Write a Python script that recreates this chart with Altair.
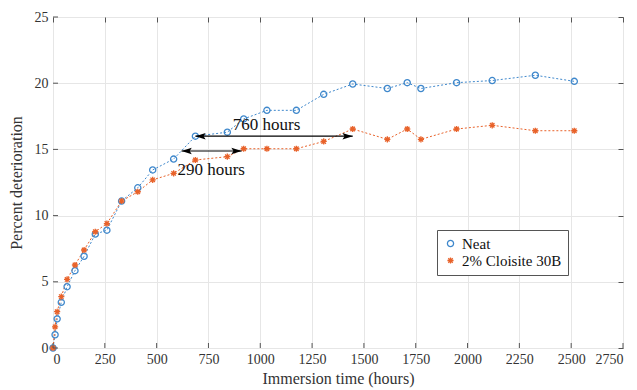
import altair as alt
import pandas as pd

hours = [0, 10, 20, 40, 68, 106, 150, 204, 260, 331, 409, 481, 582, 687, 841, 920,
         1032, 1174, 1306, 1446, 1613, 1709, 1775, 1947, 2119, 2327, 2515]
neat = [0, 1.0, 2.2, 3.45, 4.63, 5.84, 6.93, 8.6, 8.9, 11.1, 12.1, 13.45, 14.27, 16.0,
        16.3, 17.3, 17.95, 17.95, 19.16, 19.94, 19.6, 20.04, 19.6, 20.04, 20.2, 20.6, 20.14]
cloisite = [0, 1.6, 2.74, 3.88, 5.18, 6.27, 7.4, 8.78, 9.4, 11.1, 11.8, 12.7, 13.19, 14.2,
            14.45, 15.05, 15.05, 15.05, 15.6, 16.54, 15.76, 16.54, 15.76, 16.54, 16.82, 16.41, 16.41]
series_names = ["Neat", "2% Cloisite 30B"]
series_colors = ["#3f88cc", "#e8622a"]

arrow_start = [687, 620]
arrow_end = [1446, 910]
arrow_y = [16.0, 14.88]
label_text = ["760 hours", "290 hours"]
label_x = [1030, 763]
label_y = [16.85, 13.45]

x_ticks = list(range(0, 2751, 250))
y_ticks = [0, 5, 10, 15, 20, 25]

W, H = 570, 331
FONT = "Liberation Serif"
TICK = "#555"
ASTERISK = "M-1,0L1,0M0,-1L0,1M-0.72,-0.72L0.72,0.72M-0.72,0.72L0.72,-0.72"
HEAD_L = "M0,0L1,-0.32L0.8,0L1,0.32Z"
HEAD_R = "M0,0L-1,-0.32L-0.8,0L-1,0.32Z"

rows = []
for name, ys in zip(series_names, [neat, cloisite]):
    for h, v in zip(hours, ys):
        rows.append({"hours": h, "value": v, "series": name})
df = pd.DataFrame(rows)

arrows = pd.DataFrame({"x": arrow_start, "x2": arrow_end, "y": arrow_y})
labels = pd.DataFrame({"x": label_x, "y": label_y, "text": label_text})
xt = pd.DataFrame({"v": x_ticks})
yt = pd.DataFrame({"v": y_ticks})

xs = alt.Scale(domain=[0, 2750], nice=False)
ys_ = alt.Scale(domain=[0, 25], nice=False)


def inner_axis(orient, values):
    return alt.Axis(orient=orient, labels=False, grid=False, domain=False, ticks=True,
                    tickSize=5, tickColor=TICK, tickWidth=1, offset=-5, values=values,
                    title=None)


lines = alt.Chart(df).mark_line(strokeWidth=1, strokeDash=[2, 2]).encode(
    x=alt.X("hours:Q", scale=xs, title="Immersion time (hours)",
            axis=alt.Axis(orient="bottom", values=x_ticks, format="d", grid=True,
                          gridColor="#e6e6e6", ticks=False, domain=False, labelFont=FONT,
                          labelFontSize=14, labelColor="#333", labelPadding=4, titleFont=FONT,
                          titleFontSize=16, titleFontWeight="normal", titleColor="#333",
                          titlePadding=4)),
    y=alt.Y("value:Q", scale=ys_, title="Percent deterioration",
            axis=alt.Axis(orient="left", values=y_ticks, format="d", grid=True,
                          gridColor="#e6e6e6", ticks=False, domain=False, labelFont=FONT,
                          labelFontSize=14, labelColor="#333", labelPadding=5, titleFont=FONT,
                          titleFontSize=16, titleFontWeight="normal", titleColor="#333",
                          titlePadding=10)),
    stroke=alt.Stroke("series:N", scale=alt.Scale(domain=series_names, range=series_colors),
                      legend=None),
    detail="series:N",
)

points = alt.Chart(df).mark_point(filled=False, strokeWidth=1.3, size=38, opacity=1).encode(
    x=alt.X("hours:Q", scale=xs, axis=inner_axis("top", x_ticks)),
    y=alt.Y("value:Q", scale=ys_, axis=inner_axis("right", y_ticks)),
    color=alt.Color("series:N", scale=alt.Scale(domain=series_names, range=series_colors),
                    legend=alt.Legend(title=None, orient="none", legendX=384, legendY=213,
                                      strokeColor="#555", fillColor="white", padding=6,
                                      labelFont=FONT, labelFontSize=15, labelColor="#111",
                                      symbolStrokeWidth=1.3, symbolSize=38, rowPadding=1)),
    shape=alt.Shape("series:N", scale=alt.Scale(domain=series_names, range=["circle", ASTERISK]),
                    legend=None),
)

# inward ticks on bottom and left edges, placed by the shared scales
xtick_marks = alt.Chart(xt).mark_rule(color=TICK, strokeWidth=1).encode(
    x=alt.X("v:Q", scale=xs, axis=None), y=alt.value(H), y2=alt.value(H - 5))
ytick_marks = alt.Chart(yt).mark_rule(color=TICK, strokeWidth=1).encode(
    y=alt.Y("v:Q", scale=ys_, axis=None), x=alt.value(0), x2=alt.value(5))

rule = alt.Chart(arrows).mark_rule(color="black", strokeWidth=1.2).encode(
    x=alt.X("x:Q", scale=xs, axis=None),
    x2="x2:Q",
    y=alt.Y("y:Q", scale=ys_, axis=None),
)

head_l = alt.Chart(arrows).mark_point(filled=True, color="black", size=420, opacity=1,
                                      shape=HEAD_L).encode(
    x=alt.X("x:Q", scale=xs, axis=None), y=alt.Y("y:Q", scale=ys_, axis=None))
head_r = alt.Chart(arrows).mark_point(filled=True, color="black", size=420, opacity=1,
                                      shape=HEAD_R).encode(
    x=alt.X("x2:Q", scale=xs, axis=None), y=alt.Y("y:Q", scale=ys_, axis=None))

text = alt.Chart(labels).mark_text(font=FONT, fontSize=17, color="#111",
                                   baseline="middle", align="center").encode(
    x=alt.X("x:Q", scale=xs, axis=None), y=alt.Y("y:Q", scale=ys_, axis=None), text="text:N")

chart = alt.layer(lines, points, xtick_marks, ytick_marks, rule, head_l, head_r,
                  text).resolve_axis(
    x="independent", y="independent"
).resolve_scale(color="independent", shape="independent").properties(
    width=W, height=H,
    autosize=alt.AutoSizeParams(type="none"),
    padding={"left": 53, "top": 17, "right": 14, "bottom": 42},
    background="white",
).configure(font=FONT).configure_view(stroke="#777", strokeWidth=1)

chart.save("out.html", embed_options={"renderer": "svg", "actions": False})
